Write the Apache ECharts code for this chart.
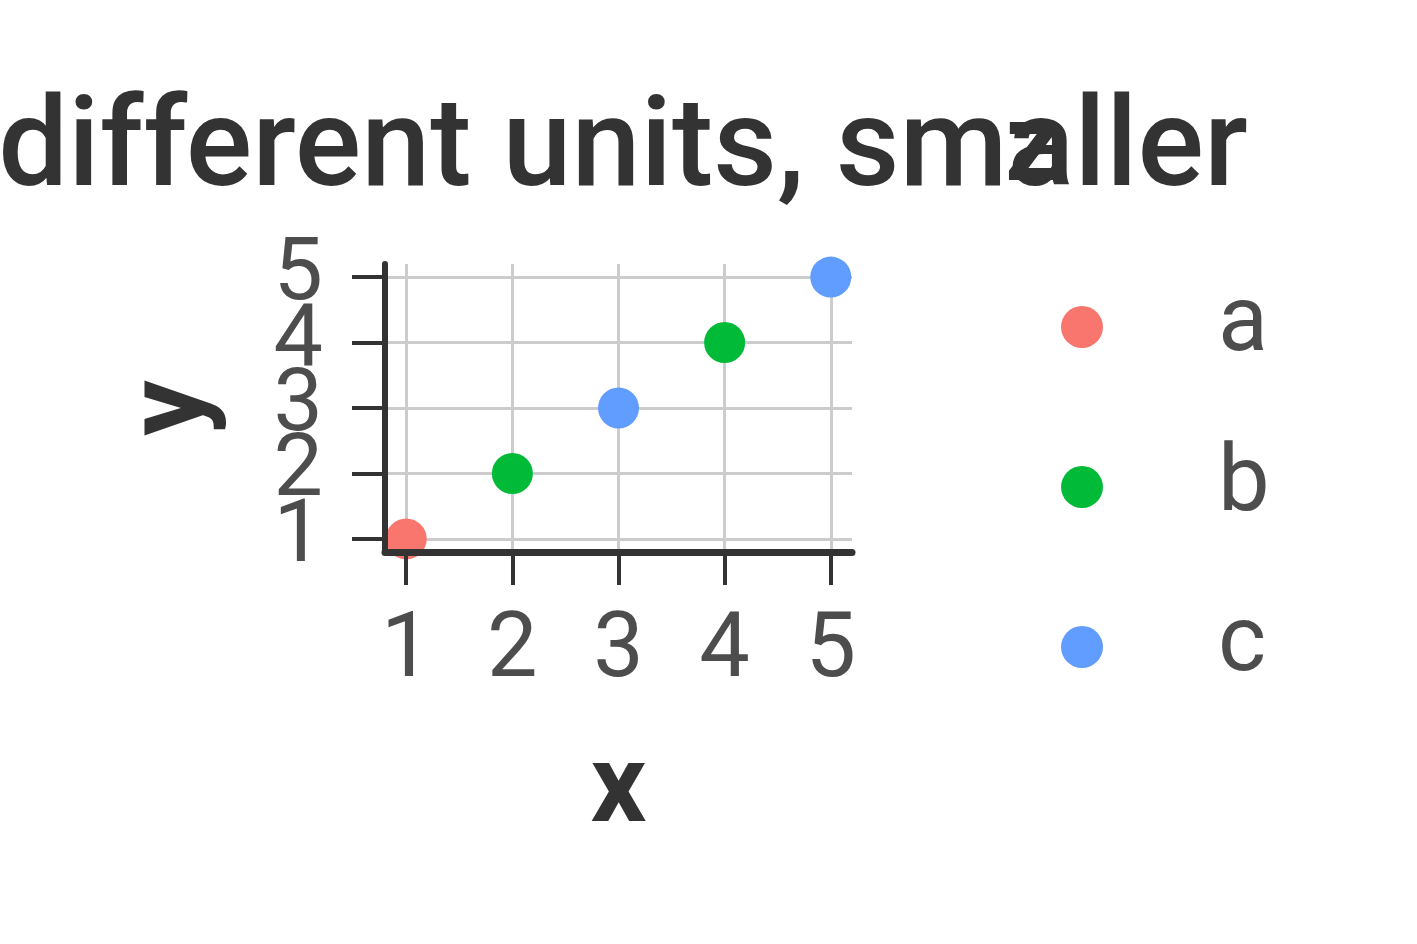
<!DOCTYPE html>
<html>
<head>
<meta charset="utf-8">
<script src="https://cdn.jsdelivr.net/npm/echarts@6/dist/echarts.min.js"></script>
<style>html,body{margin:0;padding:0;background:#fff}#c{width:1417px;height:944px}</style>
</head>
<body>
<div id="c"></div>
<script>
const xs = [1, 2, 3, 4, 5];
const ys = [1, 2, 3, 4, 5];
const groups = ['a', 'b', 'c', 'b', 'c'];
const categories = ['a', 'b', 'c'];
const colors = ['#F8766D', '#00BA38', '#619CFF'];
const tickValues = [1, 2, 3, 4, 5];
const titleText = 'different units, smaller';
const legendTitle = 'z';
const xName = 'x';
const yName = 'y';

const FONT = 'Roboto';
const series = categories.map((cat, ci) => ({
  name: cat,
  type: 'scatter',
  xAxisIndex: 0,
  yAxisIndex: 0,
  symbol: 'circle',
  symbolSize: 41,
  clip: true,
  itemStyle: { color: colors[ci], opacity: 1 },
  emphasis: { disabled: true },
  data: xs.map((x, i) => groups[i] === cat ? [x, ys[i]] : null).filter(d => d)
}));

// y tick labels overlap at this size, so they are split over two overlaid axes
const yTicksOdd = tickValues.filter((v, i) => i % 2 === 0);
const yTicksEven = tickValues.filter((v, i) => i % 2 === 1);

const grid = { left: 385, right: 1417 - 852, top: 264, bottom: 944 - 552, containLabel: false };

const yLabelStyle = { show: true, interval: 0, hideOverlap: false, showMinLabel: true, showMaxLabel: true, margin: 62, fontFamily: FONT, fontSize: 88, color: '#4D4D4D' };
const yTickStyle = { show: true, length: 33, interval: 0, lineStyle: { color: '#333333', width: 4 } };

const chart = echarts.init(document.getElementById('c'), null, { renderer: 'canvas' });
chart.setOption({
  animation: false,
  backgroundColor: '#ffffff',
  title: [
    { text: titleText, left: 618, top: 87, textAlign: 'center',
      textStyle: { fontFamily: FONT, fontSize: 124, fontWeight: 500, color: '#333333' } },
    { text: legendTitle, left: 1000, top: 92,
      textStyle: { fontFamily: FONT, fontSize: 110, fontWeight: 'bold', color: '#333333' } }
  ],
  legend: {
    orient: 'vertical',
    left: 1056,
    top: 276,
    itemWidth: 42,
    itemHeight: 42,
    itemGap: 68,
    icon: 'circle',
    selectedMode: false,
    data: categories,
    textStyle: { fontFamily: FONT, fontSize: 92, color: '#4D4D4D', padding: [0, 0, 0, 110] }
  },
  grid: grid,
  xAxis: [
    { type: 'value', min: 0.8, max: 5.2,
      axisLine: { show: false }, axisTick: { show: false, customValues: tickValues }, axisLabel: { show: false, customValues: tickValues },
      splitLine: { show: true, lineStyle: { color: '#CCCCCC', width: 3 } } },
    { type: 'value', min: 0.8, max: 5.2, position: 'bottom', z: 5,
      axisLine: { show: true, onZero: false, lineStyle: { color: '#333333', width: 7 } },
      axisTick: { show: true, length: 33, interval: 0, customValues: tickValues, lineStyle: { color: '#333333', width: 4 } },
      axisLabel: { show: true, interval: 0, hideOverlap: false, customValues: tickValues, showMinLabel: true, showMaxLabel: true, margin: 56, fontFamily: FONT, fontSize: 90, color: '#4D4D4D' },
      splitLine: { show: false },
      name: xName, nameLocation: 'middle', nameGap: 186,
      nameTextStyle: { fontFamily: FONT, fontSize: 110, fontWeight: 'bold', color: '#333333' } }
  ],
  yAxis: [
    { type: 'value', min: 0.8, max: 5.2,
      axisLine: { show: false }, axisTick: { show: false, customValues: tickValues }, axisLabel: { show: false, customValues: tickValues },
      splitLine: { show: true, lineStyle: { color: '#CCCCCC', width: 3 } } },
    { type: 'value', min: 0.8, max: 5.2, position: 'left', z: 5,
      axisLine: { show: true, onZero: false, lineStyle: { color: '#333333', width: 6 } },
      axisTick: Object.assign({ customValues: yTicksOdd }, yTickStyle),
      axisLabel: Object.assign({ customValues: yTicksOdd }, yLabelStyle),
      splitLine: { show: false },
      name: yName, nameLocation: 'middle', nameGap: 155,
      nameTextStyle: { fontFamily: FONT, fontSize: 110, fontWeight: 'bold', color: '#333333' } },
    { type: 'value', min: 0.8, max: 5.2, position: 'left', offset: 0, z: 5,
      axisLine: { show: false, onZero: false },
      axisTick: Object.assign({ customValues: yTicksEven }, yTickStyle),
      axisLabel: Object.assign({ customValues: yTicksEven }, yLabelStyle),
      splitLine: { show: false } }
  ],
  series: series
});
</script>
</body>
</html>
